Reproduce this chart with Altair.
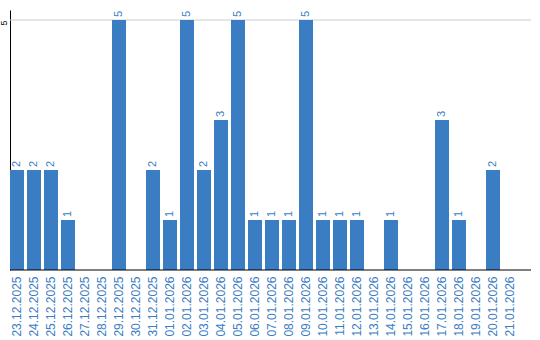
import altair as alt
import pandas as pd

dates = ["23.12.2025", "24.12.2025", "25.12.2025", "26.12.2025", "27.12.2025",
         "28.12.2025", "29.12.2025", "30.12.2025", "31.12.2025", "01.01.2026",
         "02.01.2026", "03.01.2026", "04.01.2026", "05.01.2026", "06.01.2026",
         "07.01.2026", "08.01.2026", "09.01.2026", "10.01.2026", "11.01.2026",
         "12.01.2026", "13.01.2026", "14.01.2026", "15.01.2026", "16.01.2026",
         "17.01.2026", "18.01.2026", "19.01.2026", "20.01.2026", "21.01.2026"]
values = [2, 2, 2, 1, 0, 0, 5, 0, 2, 1,
          5, 2, 3, 5, 1, 1, 1, 5, 1, 1,
          1, 0, 1, 0, 0, 3, 1, 0, 2, 0]

BLUE = "#3b7dc3"
FONT = "Liberation Sans"

df = pd.DataFrame({"date": dates, "value": values})

xscale = alt.Scale(domain=dates, paddingInner=3 / 17, paddingOuter=0)
yscale = alt.Scale(domain=[0, 5.2], nice=False, zero=True)

bars = alt.Chart(df).mark_bar(color=BLUE).encode(
    x=alt.X("date:N", scale=xscale, sort=None,
            axis=alt.Axis(title=None, labelAngle=270, ticks=False, domain=False,
                          labelPadding=6, labelColor=BLUE, labelFontSize=12,
                          labelFont=FONT)),
    y=alt.Y("value:Q", scale=yscale,
            axis=alt.Axis(title=None, values=[5], grid=False, ticks=False,
                          labelAngle=270, labelAlign="right", labelBaseline="bottom",
                          labelPadding=2, domainColor="black", labelColor="black",
                          labelFontSize=9, labelFont=FONT)),
)

texts = alt.Chart(df).transform_filter(alt.datum.value > 0).mark_text(
    angle=270, align="left", baseline="middle", dx=3, fontSize=11,
    color=BLUE, font=FONT
).encode(
    x=alt.X("date:N", scale=xscale, sort=None),
    y=alt.Y("value:Q", scale=yscale),
    text="value:Q",
)

grid = alt.Chart(pd.DataFrame({"g": [5]})).mark_rule(color="#cccccc", strokeWidth=1).encode(
    y=alt.Y("g:Q", scale=yscale),
    x=alt.value(0),
    x2=alt.value(521),
)

xaxis = alt.Chart(pd.DataFrame({"g": [0]})).mark_rule(color="black", strokeWidth=1).encode(
    y=alt.value(260),
    x=alt.value(0),
    x2=alt.value(521),
)

chart = alt.layer(grid, bars, texts, xaxis).properties(
    width=alt.Step(17),
    height=260,
    autosize=alt.AutoSizeParams(type="none"),
    padding={"left": 10, "top": 10, "right": 23, "bottom": 70},
).configure_view(stroke=None)

chart.save("out.html", embed_options={"renderer": "svg", "actions": False})
